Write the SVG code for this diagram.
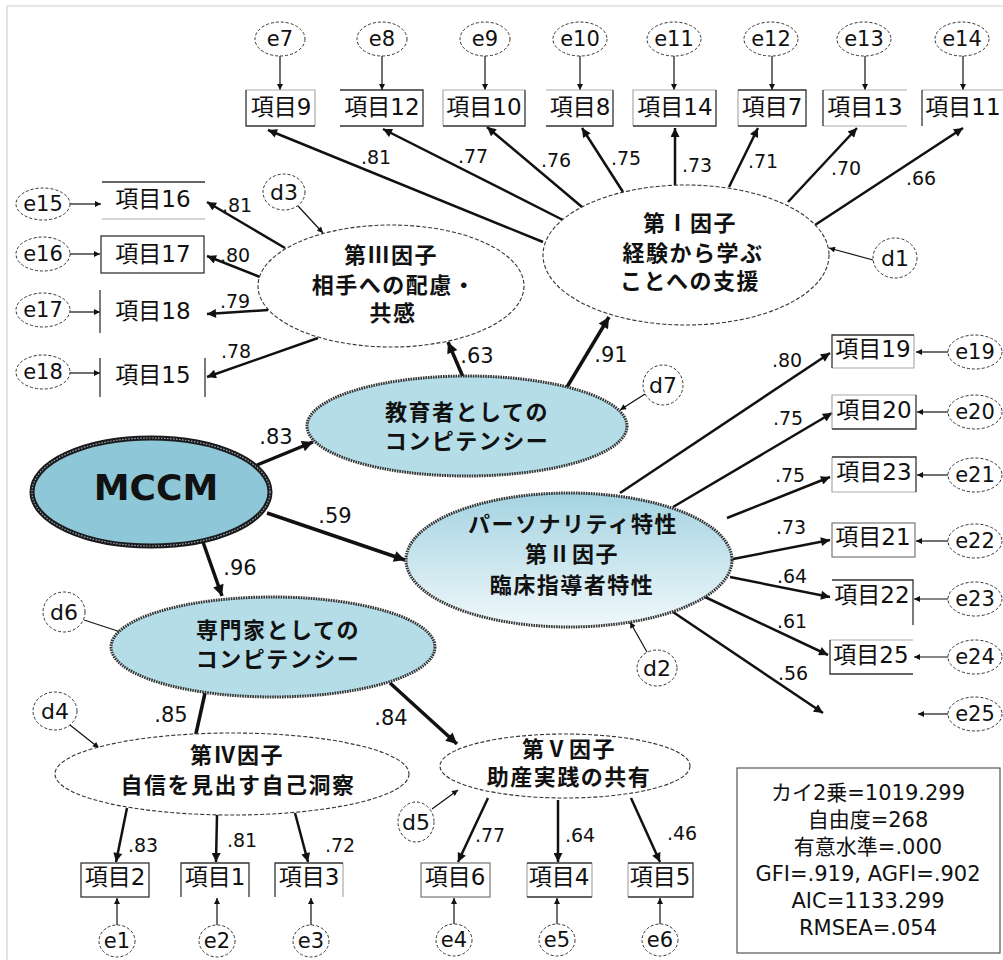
<svg xmlns="http://www.w3.org/2000/svg" width="1003" height="960" viewBox="0 0 1003 960">
<defs>
<marker id="ahL" viewBox="0 0 10 10" refX="10" refY="5" markerWidth="11" markerHeight="9" markerUnits="userSpaceOnUse" orient="auto"><path d="M0,0 L10,5 L0,10 z" fill="#111"/></marker>
<marker id="ahS" viewBox="0 0 10 10" refX="10" refY="5" markerWidth="14" markerHeight="11" markerUnits="userSpaceOnUse" orient="auto"><path d="M0,0 L10,5 L0,10 z" fill="#111"/></marker>
<marker id="ahT" viewBox="0 0 10 10" refX="10" refY="5" markerWidth="7" markerHeight="6" markerUnits="userSpaceOnUse" orient="auto"><path d="M0,0 L10,5 L0,10 z" fill="#111"/></marker>
<linearGradient id="gP" x1="0" y1="0" x2="0" y2="1"><stop offset="0" stop-color="#a4d3e1"/><stop offset="1" stop-color="#f0f8fb"/></linearGradient>
<style>
.ld{stroke:#111;stroke-width:2.5;fill:none;marker-end:url(#ahL)}
.st{stroke:#111;stroke-width:3.5;fill:none;marker-end:url(#ahS)}
.th{stroke:#111;stroke-width:1.2;fill:none;marker-end:url(#ahT)}
.bd{stroke:#333;stroke-width:1.3;fill:none}
.bl{stroke:#aaa;stroke-width:1.2;fill:none}
.bm{stroke:#777;stroke-width:1.2;fill:none}
.err{fill:#fff;stroke:#333;stroke-width:1;stroke-dasharray:3 2}
.fac{fill:#fff;stroke:#333;stroke-width:1.1;stroke-dasharray:4 2}
.blue{fill:#b5dde8;stroke:#333;stroke-width:3;stroke-dasharray:1.6 0.9}
.lab{font-family:"DejaVu Sans","Noto Sans CJK JP",sans-serif;font-size:23px;fill:#111;text-anchor:middle}
.el{font-family:"DejaVu Sans",sans-serif;font-size:21px;fill:#111;text-anchor:middle}
.dl{font-family:"DejaVu Sans",sans-serif;font-size:22px;fill:#111;text-anchor:middle}
.co{font-family:"DejaVu Sans",sans-serif;font-size:19px;fill:#111;text-anchor:middle}
.cs{font-family:"DejaVu Sans",sans-serif;font-size:21px;fill:#111;text-anchor:middle}
.ft{font-family:"Noto Sans CJK JP",sans-serif;font-size:22px;font-weight:bold;letter-spacing:1.5px;fill:#111;text-anchor:middle}
.stat{font-family:"DejaVu Sans","Noto Sans CJK JP",sans-serif;font-size:21px;fill:#111;text-anchor:middle}
</style>
</defs>
<rect width="1003" height="960" fill="#fff"/>
<path d="M7,960 V6 H1003" stroke="#d0d0d0" stroke-width="1.2" fill="none"/>

<!-- connectors -->
<g id="connectors">
<line class="ld" x1="543" y1="242" x2="268" y2="130"/>
<line class="ld" x1="563" y1="220" x2="383" y2="129"/>
<line class="ld" x1="582" y1="207" x2="487" y2="127"/>
<line class="ld" x1="623" y1="192" x2="582" y2="128"/>
<line class="ld" x1="675" y1="185" x2="675" y2="128"/>
<line class="ld" x1="729" y1="187" x2="758" y2="128"/>
<line class="ld" x1="788" y1="202" x2="857" y2="128"/>
<line class="ld" x1="815" y1="225" x2="963" y2="128"/>
<line class="ld" x1="285" y1="248" x2="207" y2="202"/>
<line class="ld" x1="260" y1="277" x2="207" y2="256"/>
<line class="ld" x1="268" y1="310" x2="207" y2="314"/>
<line class="ld" x1="318" y1="338" x2="207" y2="377"/>
<line class="ld" x1="620" y1="493" x2="830" y2="353"/>
<line class="ld" x1="673" y1="507" x2="832" y2="413"/>
<line class="ld" x1="727" y1="518" x2="830" y2="477"/>
<line class="ld" x1="733" y1="559" x2="830" y2="540"/>
<line class="ld" x1="730" y1="577" x2="830" y2="597"/>
<line class="ld" x1="705" y1="597" x2="828" y2="655"/>
<line class="ld" x1="673" y1="612" x2="823" y2="713"/>
<line class="ld" x1="127" y1="808" x2="116" y2="862"/>
<line class="ld" x1="217" y1="815" x2="216" y2="862"/>
<line class="ld" x1="295" y1="813" x2="308" y2="862"/>
<line class="ld" x1="488" y1="798" x2="458" y2="862"/>
<line class="ld" x1="558" y1="800" x2="558" y2="862"/>
<line class="ld" x1="631" y1="798" x2="660" y2="862"/>
<line class="st" x1="257" y1="465" x2="313" y2="442"/>
<line class="st" x1="267" y1="513" x2="405" y2="560"/>
<line class="st" x1="203" y1="542" x2="222" y2="596"/>
<line class="st" x1="463" y1="377" x2="448" y2="342"/>
<line class="st" x1="567" y1="387" x2="609" y2="317"/>
<line class="st" x1="205" y1="693" x2="193" y2="747"/>
<line class="st" x1="390" y1="683" x2="457" y2="744"/>
<line class="th" x1="280" y1="56" x2="280" y2="90"/>
<line class="th" x1="382" y1="56" x2="382" y2="90"/>
<line class="th" x1="485" y1="56" x2="485" y2="90"/>
<line class="th" x1="580" y1="56" x2="580" y2="90"/>
<line class="th" x1="674" y1="56" x2="674" y2="90"/>
<line class="th" x1="772" y1="56" x2="772" y2="90"/>
<line class="th" x1="865" y1="56" x2="865" y2="90"/>
<line class="th" x1="963" y1="56" x2="963" y2="90"/>
<line class="th" x1="70" y1="204" x2="101" y2="204"/>
<line class="th" x1="70" y1="254" x2="100" y2="254"/>
<line class="th" x1="70" y1="312" x2="100" y2="312"/>
<line class="th" x1="70" y1="373" x2="100" y2="373"/>
<line class="th" x1="948" y1="352" x2="916" y2="352"/>
<line class="th" x1="948" y1="412" x2="917" y2="412"/>
<line class="th" x1="948" y1="475" x2="917" y2="475"/>
<line class="th" x1="948" y1="541" x2="916" y2="541"/>
<line class="th" x1="948" y1="599" x2="914" y2="599"/>
<line class="th" x1="948" y1="657" x2="914" y2="657"/>
<line class="th" x1="948" y1="714" x2="918" y2="714"/>
<line class="th" x1="117" y1="925" x2="117" y2="898"/>
<line class="th" x1="217" y1="925" x2="217" y2="898"/>
<line class="th" x1="311" y1="925" x2="311" y2="898"/>
<line class="th" x1="454" y1="924" x2="454" y2="898"/>
<line class="th" x1="557" y1="924" x2="557" y2="898"/>
<line class="th" x1="660" y1="924" x2="660" y2="898"/>
<line class="th" x1="873" y1="260" x2="829" y2="248"/>
<line class="th" x1="298" y1="206" x2="323" y2="233"/>
<line class="th" x1="645" y1="394" x2="620" y2="410"/>
<line class="th" x1="647" y1="652" x2="630" y2="622"/>
<line class="th" x1="84" y1="620" x2="133" y2="636"/>
<line class="th" x1="70" y1="725" x2="99" y2="748"/>
<line class="th" x1="432" y1="809" x2="458" y2="790"/>
<g id="coef">
<text class="co" x="376" y="164">.81</text>
<text class="co" x="473" y="163">.77</text>
<text class="co" x="556" y="167">.76</text>
<text class="co" x="626" y="165">.75</text>
<text class="co" x="697" y="172">.73</text>
<text class="co" x="763" y="168">.71</text>
<text class="co" x="846" y="175">.70</text>
<text class="co" x="921" y="185">.66</text>
<text class="co" x="237" y="212">.81</text>
<text class="co" x="235" y="262">.80</text>
<text class="co" x="235" y="308">.79</text>
<text class="co" x="236" y="358">.78</text>
<text class="co" x="787" y="367">.80</text>
<text class="co" x="788" y="425">.75</text>
<text class="co" x="790" y="482">.75</text>
<text class="co" x="791" y="534">.73</text>
<text class="co" x="792" y="583">.64</text>
<text class="co" x="792" y="628">.61</text>
<text class="co" x="793" y="680">.56</text>
<text class="co" x="143" y="852">.83</text>
<text class="co" x="242" y="847">.81</text>
<text class="co" x="340" y="852">.72</text>
<text class="co" x="490" y="842">.77</text>
<text class="co" x="580" y="842">.64</text>
<text class="co" x="682" y="840">.46</text>
<text class="cs" x="276" y="444">.83</text>
<text class="cs" x="335" y="523">.59</text>
<text class="cs" x="240" y="575">.96</text>
<text class="cs" x="477" y="363">.63</text>
<text class="cs" x="611" y="362">.91</text>
<text class="cs" x="171" y="722">.85</text>
<text class="cs" x="391" y="725">.84</text>
</g>
</g>

<!-- latent factors -->
<g id="factor1"><ellipse class="fac" cx="686" cy="255" rx="143" ry="70"/>
<text class="ft" x="690" y="231">第Ⅰ因子</text><text class="ft" x="693" y="261">経験から学ぶ</text><text class="ft" x="690" y="289">ことへの支援</text></g>
<g id="factor3"><ellipse class="fac" cx="391" cy="286" rx="133" ry="61"/>
<text class="ft" x="391" y="263">第Ⅲ因子</text><text class="ft" x="394" y="293">相手への配慮・</text><text class="ft" x="393" y="321">共感</text></g>
<g id="educator"><ellipse class="blue" cx="467" cy="426" rx="160" ry="50"/>
<text class="ft" x="467" y="420">教育者としての</text><text class="ft" x="467" y="449">コンピテンシー</text></g>
<g id="mccm"><ellipse cx="151" cy="492" rx="119" ry="54" fill="#8ec7d7" stroke="#1a1a1a" stroke-width="5"/>
<ellipse cx="151" cy="492" rx="119" ry="54" fill="none" stroke="#9ab" stroke-width="1.2" stroke-dasharray="1.5 1.5"/>
<text x="156" y="500" font-family="DejaVu Sans,sans-serif" font-weight="bold" font-size="36" text-anchor="middle" fill="#111">MCCM</text></g>
<g id="factor2"><ellipse cx="569" cy="560" rx="163" ry="67" fill="url(#gP)" stroke="#333" stroke-width="3" stroke-dasharray="1.6 0.9"/>
<text class="ft" x="573" y="532">パーソナリティ特性</text><text class="ft" x="572" y="562">第Ⅱ因子</text><text class="ft" x="572" y="593">臨床指導者特性</text></g>
<g id="professional"><ellipse class="blue" cx="273" cy="647" rx="162" ry="50"/>
<text class="ft" x="278" y="638">専門家としての</text><text class="ft" x="278" y="667">コンピテンシー</text></g>
<g id="factor4"><ellipse class="fac" cx="232" cy="774" rx="177" ry="41"/>
<text class="ft" x="237" y="763">第Ⅳ因子</text><text class="ft" x="238" y="793">自信を見出す自己洞察</text></g>
<g id="factor5"><ellipse class="fac" cx="565" cy="766" rx="125" ry="32"/>
<text class="ft" x="569" y="757">第Ⅴ因子</text><text class="ft" x="569" y="785">助産実践の共有</text></g>

<!-- disturbances -->
<g id="d1"><ellipse class="err" cx="895" cy="258" rx="22" ry="20"/><text class="dl" x="895" y="266">d1</text></g>
<g id="d3"><ellipse class="err" cx="284" cy="192" rx="21" ry="18"/><text class="dl" x="284" y="200">d3</text></g>
<g id="d7"><ellipse class="err" cx="663" cy="385" rx="20" ry="20"/><text class="dl" x="663" y="393">d7</text></g>
<g id="d2"><ellipse class="err" cx="657" cy="668" rx="20" ry="18"/><text class="dl" x="657" y="676">d2</text></g>
<g id="d6"><ellipse class="err" cx="64" cy="612" rx="21" ry="20"/><text class="dl" x="64" y="620">d6</text></g>
<g id="d4"><ellipse class="err" cx="55" cy="711" rx="22" ry="19"/><text class="dl" x="55" y="719">d4</text></g>
<g id="d5"><ellipse class="err" cx="416" cy="822" rx="18" ry="20"/><text class="dl" x="416" y="830">d5</text></g>

<!-- error terms -->
<g id="e7"><ellipse class="err" cx="280" cy="39" rx="25" ry="17"/><text class="el" x="280" y="46">e7</text></g>
<g id="e8"><ellipse class="err" cx="382" cy="39" rx="25" ry="17"/><text class="el" x="382" y="46">e8</text></g>
<g id="e9"><ellipse class="err" cx="485" cy="39" rx="25" ry="17"/><text class="el" x="485" y="46">e9</text></g>
<g id="e10"><ellipse class="err" cx="580" cy="39" rx="27" ry="17"/><text class="el" x="580" y="46">e10</text></g>
<g id="e11"><ellipse class="err" cx="674" cy="39" rx="27" ry="17"/><text class="el" x="674" y="46">e11</text></g>
<g id="e12"><ellipse class="err" cx="771" cy="39" rx="27" ry="17"/><text class="el" x="771" y="46">e12</text></g>
<g id="e13"><ellipse class="err" cx="864" cy="39" rx="27" ry="17"/><text class="el" x="864" y="46">e13</text></g>
<g id="e14"><ellipse class="err" cx="962" cy="39" rx="27" ry="17"/><text class="el" x="962" y="46">e14</text></g>
<g id="e15"><ellipse class="err" cx="43" cy="204" rx="27" ry="16"/><text class="el" x="43" y="211">e15</text></g>
<g id="e16"><ellipse class="err" cx="43" cy="254" rx="27" ry="17"/><text class="el" x="43" y="261">e16</text></g>
<g id="e17"><ellipse class="err" cx="43" cy="310" rx="27" ry="17"/><text class="el" x="43" y="317">e17</text></g>
<g id="e18"><ellipse class="err" cx="43" cy="372" rx="27" ry="17"/><text class="el" x="43" y="379">e18</text></g>
<g id="e19"><ellipse class="err" cx="975" cy="352" rx="27" ry="17"/><text class="el" x="975" y="359">e19</text></g>
<g id="e20"><ellipse class="err" cx="975" cy="412" rx="27" ry="17"/><text class="el" x="975" y="419">e20</text></g>
<g id="e21"><ellipse class="err" cx="975" cy="475" rx="27" ry="17"/><text class="el" x="975" y="482">e21</text></g>
<g id="e22"><ellipse class="err" cx="975" cy="541" rx="27" ry="17"/><text class="el" x="975" y="548">e22</text></g>
<g id="e23"><ellipse class="err" cx="975" cy="599" rx="27" ry="17"/><text class="el" x="975" y="606">e23</text></g>
<g id="e24"><ellipse class="err" cx="975" cy="657" rx="27" ry="17"/><text class="el" x="975" y="664">e24</text></g>
<g id="e25"><ellipse class="err" cx="975" cy="714" rx="27" ry="17"/><text class="el" x="975" y="721">e25</text></g>
<g id="e1"><ellipse class="err" cx="117" cy="941" rx="18" ry="16"/><text class="el" x="117" y="948">e1</text></g>
<g id="e2"><ellipse class="err" cx="217" cy="941" rx="18" ry="16"/><text class="el" x="217" y="948">e2</text></g>
<g id="e3"><ellipse class="err" cx="311" cy="941" rx="18" ry="16"/><text class="el" x="311" y="948">e3</text></g>
<g id="e4"><ellipse class="err" cx="454" cy="940" rx="18" ry="16"/><text class="el" x="454" y="947">e4</text></g>
<g id="e5"><ellipse class="err" cx="557" cy="940" rx="18" ry="16"/><text class="el" x="557" y="947">e5</text></g>
<g id="e6"><ellipse class="err" cx="660" cy="940" rx="18" ry="16"/><text class="el" x="660" y="947">e6</text></g>

<!-- observed items: top -->
<g id="item9"><path class="bl" d="M246,90 H315 V126"/><path class="bd" d="M246,90 V126 H315"/><text class="lab" x="281" y="115">項目9</text></g>
<g id="item12"><path class="bd" d="M340,90 H423 V126 H340"/><text class="lab" x="382" y="115">項目12</text></g>
<g id="item10"><path class="bl" d="M443,126 V90 H525"/><path class="bd" d="M525,90 V126 H443"/><text class="lab" x="484" y="115">項目10</text></g>
<g id="item8"><path class="bl" d="M546,90 H613"/><path class="bd" d="M613,90 V126 H546"/><text class="lab" x="580" y="115">項目8</text></g>
<g id="item14"><path class="bl" d="M633,126 V90 H716"/><path class="bd" d="M716,90 V126 H633"/><text class="lab" x="675" y="115">項目14</text></g>
<g id="item7"><path class="bl" d="M738,90 V126"/><path class="bd" d="M738,90 H806 V126 H738"/><text class="lab" x="772" y="115">項目7</text></g>
<g id="item13"><path class="bl" d="M823,90 H907 M823,126 H907"/><path class="bd" d="M823,90 V126"/><text class="lab" x="865" y="115">項目13</text></g>
<g id="item11"><path class="bl" d="M922,90 H1003"/><path class="bd" d="M922,90 V126"/><text class="lab" x="963" y="115">項目11</text></g>
<!-- left -->
<g id="item16"><path class="bd" d="M102,182 H205"/><path class="bl" d="M102,219 H205"/><text class="lab" x="153" y="207">項目16</text></g>
<g id="item17"><rect class="bd" x="101" y="236" width="103" height="37"/><text class="lab" x="153" y="262">項目17</text></g>
<g id="item18"><path class="bd" d="M100,290 V333"/><text class="lab" x="153" y="319">項目18</text></g>
<g id="item15"><path class="bd" d="M100,358 V397 M205,358 V397"/><text class="lab" x="153" y="383">項目15</text></g>
<!-- right -->
<g id="item19"><path class="bl" d="M914,335 V368 H832"/><path class="bd" d="M832,368 V335 H914"/><text class="lab" x="873" y="357">項目19</text></g>
<g id="item20"><path class="bl" d="M832,429 V395 H916"/><path class="bd" d="M916,395 V429 H832"/><text class="lab" x="874" y="418">項目20</text></g>
<g id="item23"><path class="bl" d="M916,492 H832 V457"/><path class="bd" d="M832,457 H916 V492"/><text class="lab" x="874" y="480">項目23</text></g>
<g id="item21"><rect class="bm" x="832" y="523" width="83" height="34"/><text class="lab" x="873" y="545">項目21</text></g>
<g id="item22"><path class="bd" d="M832,580 H913 V625"/><text class="lab" x="872" y="603">項目22</text></g>
<g id="item25"><path class="bl" d="M830,640 H913"/><path class="bd" d="M830,640 V674 H913"/><text class="lab" x="871" y="663">項目25</text></g>
<!-- bottom -->
<g id="item2"><rect class="bd" x="81" y="863" width="68" height="34"/><text class="lab" x="115" y="885">項目2</text></g>
<g id="item1"><path class="bd" d="M181,897 V863 H249 V897"/><text class="lab" x="215" y="885">項目1</text></g>
<g id="item3"><path class="bl" d="M343,863 V897"/><path class="bd" d="M275,897 V863 H343"/><text class="lab" x="309" y="885">項目3</text></g>
<g id="item6"><rect class="bm" x="421" y="863" width="69" height="34"/><text class="lab" x="455" y="885">項目6</text></g>
<g id="item4"><path class="bl" d="M527,863 V897 M592,863 V897"/><path class="bd" d="M527,863 H592 M527,897 H592"/><text class="lab" x="559" y="885">項目4</text></g>
<g id="item5"><path class="bl" d="M628,863 V897"/><path class="bd" d="M628,863 H693 V897 H628"/><text class="lab" x="660" y="885">項目5</text></g>

<!-- fit statistics -->
<g id="fit"><rect x="737" y="768" width="263" height="185" fill="#fff" stroke="#555" stroke-width="1.2"/>
<text class="stat" x="868" y="800">カイ2乗=1019.299</text>
<text class="stat" x="868" y="827">自由度=268</text>
<text class="stat" x="868" y="854">有意水準=.000</text>
<text class="stat" x="868" y="881">GFI=.919, AGFI=.902</text>
<text class="stat" x="868" y="908">AIC=1133.299</text>
<text class="stat" x="868" y="935">RMSEA=.054</text></g>
</svg>
